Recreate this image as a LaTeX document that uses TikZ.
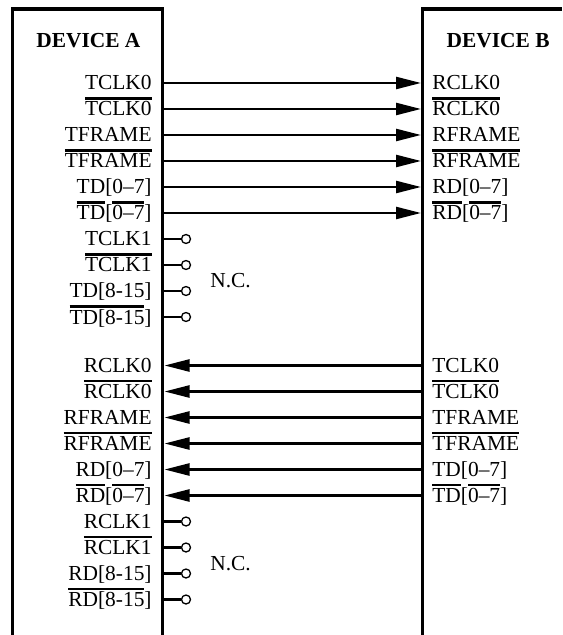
\documentclass[tikz,border=0pt]{standalone}
\usepackage{fontspec}
\setmainfont{Liberation Serif}
\usetikzlibrary{arrows.meta}
\newcommand\ovl[1]{\vbox{\hrule height 1.1pt\kern 0.9pt\hbox{\vrule height 0.68em width 0pt\smash{#1}}}}
\tikzset{
  dev/.style={line width=1.65pt, line join=miter},
  sig/.style={line width=1.2pt, -{Triangle[length=12.5pt,width=6pt]}},
  stub/.style={line width=1.1pt},
  nc/.style={circle, draw, line width=0.65pt, inner sep=0pt, minimum size=4.5pt},
  pinl/.style={anchor=base east, inner sep=0pt},
  pinr/.style={anchor=base west, inner sep=0pt},
}
\begin{document}
\begin{tikzpicture}[x=0.5pt,y=-0.5pt,font=\fontsize{10.7}{13}\selectfont]
\useasboundingbox (0,0) rectangle (562,635);
% the two devices
\draw[dev] (12.5,635)--(12.5,9)--(162.5,9)--(162.5,635);
\draw[dev] (422.5,635)--(422.5,9)--(562,9);
\node[pinr,font=\fontsize{10.7}{13}\selectfont\bfseries] (deva) at (36,48) {DEVICE A};
\node[pinl,font=\fontsize{10.7}{13}\selectfont\bfseries] (devb) at (550,48) {DEVICE B};
% A sends to B
\foreach \i/\la/\lb in {0/TCLK0/RCLK0, 1/{\ovl{TCLK0}}/{\ovl{RCLK0}},
    2/TFRAME/RFRAME, 3/{\ovl{TFRAME}}/{\ovl{RFRAME}},
    4/{TD[0--7]}/{RD[0--7]}, 5/{\ovl{TD}[\ovl{0--7}]}/{\ovl{RD}[\ovl{0--7}]}}{
    \coordinate (ta\i) at (163,83+26*\i);
    \coordinate (tb\i) at (421,83+26*\i);
    \node[pinl] (tl\i) at (152,90+26*\i) {\la};
    \node[pinr] (tr\i) at (432,90+26*\i) {\lb};
    \draw[sig] (ta\i)--(tb\i);
}
\foreach \i/\la in {6/TCLK1, 7/{\ovl{TCLK1}}, 8/{TD[8-15]}, 9/{\ovl{TD[8-15}]}}{
    \coordinate (ta\i) at (163,83+26*\i);
    \node[nc] (tn\i) at (186,83+26*\i) {};
    \node[pinl] (tl\i) at (152,90+26*\i) {\la};
    \draw[stub] (ta\i)--(tn\i);
}
\node[pinr] (tnc) at (210,288) {N.C.};
% B sends to A
\foreach \i/\la/\lb in {0/RCLK0/TCLK0, 1/{\ovl{RCLK0}}/{\ovl{TCLK0}},
    2/RFRAME/TFRAME, 3/{\ovl{RFRAME}}/{\ovl{TFRAME}},
    4/{RD[0--7]}/{TD[0--7]}, 5/{\ovl{RD}[\ovl{0--7}]}/{\ovl{TD}[\ovl{0--7}]}}{
    \coordinate (ra\i) at (164.5,365.5+26*\i);
    \coordinate (rb\i) at (422,365.5+26*\i);
    \node[pinl] (rl\i) at (152,372.5+26*\i) {\la};
    \node[pinr] (rr\i) at (432,372.5+26*\i) {\lb};
    \draw[sig] (rb\i)--(ra\i);
}
\foreach \i/\la in {6/RCLK1, 7/{\ovl{RCLK1}}, 8/{RD[8-15]}, 9/{\ovl{RD[8-15}]}}{
    \coordinate (ra\i) at (163,365.5+26*\i);
    \node[nc] (rn\i) at (186,365.5+26*\i) {};
    \node[pinl] (rl\i) at (152,372.5+26*\i) {\la};
    \draw[stub] (ra\i)--(rn\i);
}
\node[pinr] (rnc) at (210,570) {N.C.};
\end{tikzpicture}
\end{document}
